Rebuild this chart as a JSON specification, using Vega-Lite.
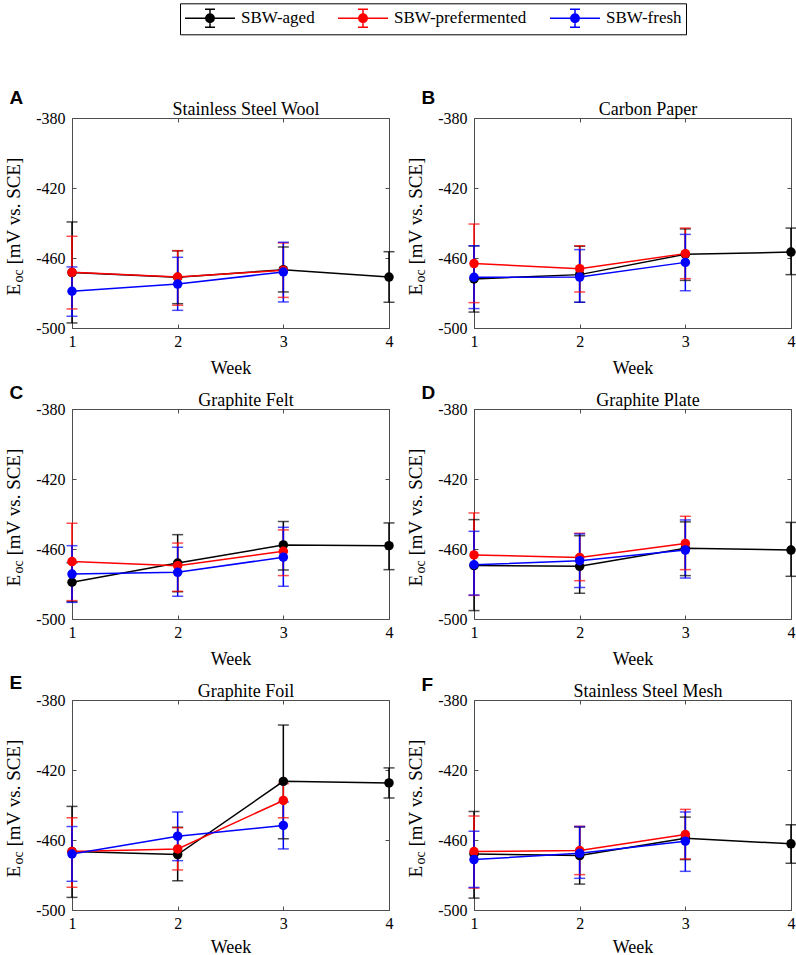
{
  "$schema": "https://vega.github.io/schema/vega-lite/v6.json",
  "background": "white",
  "padding": {"left": 3, "top": 2, "right": 0, "bottom": 0},
  "config": {
    "view": {"stroke": "#4d4d4d", "strokeWidth": 1},
    "axis": {
      "labelFont": "Liberation Serif", "labelFontSize": 16, "labelColor": "#000",
      "titleFont": "Liberation Serif", "titleFontSize": 18, "titleFontWeight": "normal", "titleColor": "#000",
      "tickColor": "#4d4d4d", "tickWidth": 1, "grid": false, "labelFlush": false, "labelOverlap": false
    }
  },
  "datasets": {
    "eoc": [
      {"panel": "A", "series": "SBW-aged", "week": 1, "mean": -468.3, "lo": -497.1, "hi": -439.4},
      {"panel": "A", "series": "SBW-aged", "week": 2, "mean": -471.0, "lo": -486.1, "hi": -455.9},
      {"panel": "A", "series": "SBW-aged", "week": 3, "mean": -466.7, "lo": -479.4, "hi": -453.7},
      {"panel": "A", "series": "SBW-aged", "week": 4, "mean": -470.9, "lo": -485.3, "hi": -456.4},
      {"panel": "A", "series": "SBW-prefermented", "week": 1, "mean": -468.2, "lo": -489.1, "hi": -447.6},
      {"panel": "A", "series": "SBW-prefermented", "week": 2, "mean": -470.9, "lo": -487.0, "hi": -455.8},
      {"panel": "A", "series": "SBW-prefermented", "week": 3, "mean": -467.0, "lo": -482.5, "hi": -451.4},
      {"panel": "A", "series": "SBW-fresh", "week": 1, "mean": -479.0, "lo": -493.3, "hi": -465.1},
      {"panel": "A", "series": "SBW-fresh", "week": 2, "mean": -474.9, "lo": -489.9, "hi": -459.6},
      {"panel": "A", "series": "SBW-fresh", "week": 3, "mean": -468.0, "lo": -485.1, "hi": -451.0},

      {"panel": "B", "series": "SBW-aged", "week": 1, "mean": -472.0, "lo": -490.9, "hi": -453.1},
      {"panel": "B", "series": "SBW-aged", "week": 2, "mean": -469.5, "lo": -485.3, "hi": -453.3},
      {"panel": "B", "series": "SBW-aged", "week": 3, "mean": -457.9, "lo": -472.8, "hi": -443.4},
      {"panel": "B", "series": "SBW-aged", "week": 4, "mean": -456.6, "lo": -469.5, "hi": -442.9},
      {"panel": "B", "series": "SBW-prefermented", "week": 1, "mean": -463.2, "lo": -485.5, "hi": -440.6},
      {"panel": "B", "series": "SBW-prefermented", "week": 2, "mean": -466.1, "lo": -479.4, "hi": -453.0},
      {"panel": "B", "series": "SBW-prefermented", "week": 3, "mean": -457.5, "lo": -471.8, "hi": -442.9},
      {"panel": "B", "series": "SBW-fresh", "week": 1, "mean": -471.0, "lo": -488.9, "hi": -453.0},
      {"panel": "B", "series": "SBW-fresh", "week": 2, "mean": -470.9, "lo": -485.3, "hi": -455.2},
      {"panel": "B", "series": "SBW-fresh", "week": 3, "mean": -462.5, "lo": -478.7, "hi": -446.5},

      {"panel": "C", "series": "SBW-aged", "week": 1, "mean": -479.0, "lo": -490.1, "hi": -467.9},
      {"panel": "C", "series": "SBW-aged", "week": 2, "mean": -468.0, "lo": -484.4, "hi": -451.8},
      {"panel": "C", "series": "SBW-aged", "week": 3, "mean": -457.7, "lo": -472.0, "hi": -444.3},
      {"panel": "C", "series": "SBW-aged", "week": 4, "mean": -458.1, "lo": -471.8, "hi": -445.1},
      {"panel": "C", "series": "SBW-prefermented", "week": 1, "mean": -467.2, "lo": -489.5, "hi": -445.3},
      {"panel": "C", "series": "SBW-prefermented", "week": 2, "mean": -469.5, "lo": -484.2, "hi": -456.6},
      {"panel": "C", "series": "SBW-prefermented", "week": 3, "mean": -461.3, "lo": -475.2, "hi": -449.1},
      {"panel": "C", "series": "SBW-fresh", "week": 1, "mean": -474.3, "lo": -490.5, "hi": -458.1},
      {"panel": "C", "series": "SBW-fresh", "week": 2, "mean": -473.3, "lo": -487.0, "hi": -459.0},
      {"panel": "C", "series": "SBW-fresh", "week": 3, "mean": -464.7, "lo": -481.3, "hi": -447.6},

      {"panel": "D", "series": "SBW-aged", "week": 1, "mean": -469.5, "lo": -495.2, "hi": -443.2},
      {"panel": "D", "series": "SBW-aged", "week": 2, "mean": -469.9, "lo": -485.3, "hi": -452.4},
      {"panel": "D", "series": "SBW-aged", "week": 3, "mean": -459.6, "lo": -475.2, "hi": -444.5},
      {"panel": "D", "series": "SBW-aged", "week": 4, "mean": -460.6, "lo": -475.6, "hi": -444.8},
      {"panel": "D", "series": "SBW-prefermented", "week": 1, "mean": -463.4, "lo": -486.5, "hi": -439.4},
      {"panel": "D", "series": "SBW-prefermented", "week": 2, "mean": -464.8, "lo": -478.1, "hi": -451.0},
      {"panel": "D", "series": "SBW-prefermented", "week": 3, "mean": -456.8, "lo": -471.8, "hi": -441.3},
      {"panel": "D", "series": "SBW-fresh", "week": 1, "mean": -469.0, "lo": -486.3, "hi": -449.9},
      {"panel": "D", "series": "SBW-fresh", "week": 2, "mean": -466.7, "lo": -482.0, "hi": -451.4},
      {"panel": "D", "series": "SBW-fresh", "week": 3, "mean": -460.6, "lo": -476.6, "hi": -443.4},

      {"panel": "E", "series": "SBW-aged", "week": 1, "mean": -466.6, "lo": -492.8, "hi": -440.8},
      {"panel": "E", "series": "SBW-aged", "week": 2, "mean": -468.3, "lo": -483.3, "hi": -452.7},
      {"panel": "E", "series": "SBW-aged", "week": 3, "mean": -426.5, "lo": -459.3, "hi": -394.3},
      {"panel": "E", "series": "SBW-aged", "week": 4, "mean": -427.4, "lo": -436.0, "hi": -418.8},
      {"panel": "E", "series": "SBW-prefermented", "week": 1, "mean": -466.6, "lo": -487.0, "hi": -447.3},
      {"panel": "E", "series": "SBW-prefermented", "week": 2, "mean": -465.1, "lo": -477.1, "hi": -453.0},
      {"panel": "E", "series": "SBW-prefermented", "week": 3, "mean": -437.4, "lo": -447.3, "hi": -427.8},
      {"panel": "E", "series": "SBW-fresh", "week": 1, "mean": -468.0, "lo": -483.6, "hi": -452.3},
      {"panel": "E", "series": "SBW-fresh", "week": 2, "mean": -457.8, "lo": -471.8, "hi": -444.0},
      {"panel": "E", "series": "SBW-fresh", "week": 3, "mean": -451.7, "lo": -465.1, "hi": -438.3},

      {"panel": "F", "series": "SBW-aged", "week": 1, "mean": -468.0, "lo": -493.2, "hi": -443.7},
      {"panel": "F", "series": "SBW-aged", "week": 2, "mean": -468.9, "lo": -485.2, "hi": -452.6},
      {"panel": "F", "series": "SBW-aged", "week": 3, "mean": -459.0, "lo": -471.2, "hi": -446.9},
      {"panel": "F", "series": "SBW-aged", "week": 4, "mean": -462.2, "lo": -473.3, "hi": -451.3},
      {"panel": "F", "series": "SBW-prefermented", "week": 1, "mean": -466.6, "lo": -487.5, "hi": -446.3},
      {"panel": "F", "series": "SBW-prefermented", "week": 2, "mean": -466.0, "lo": -479.8, "hi": -452.2},
      {"panel": "F", "series": "SBW-prefermented", "week": 3, "mean": -456.9, "lo": -470.8, "hi": -442.5},
      {"panel": "F", "series": "SBW-fresh", "week": 1, "mean": -471.2, "lo": -487.1, "hi": -455.0},
      {"panel": "F", "series": "SBW-fresh", "week": 2, "mean": -467.6, "lo": -481.9, "hi": -452.3},
      {"panel": "F", "series": "SBW-fresh", "week": 3, "mean": -460.7, "lo": -477.9, "hi": -444.0}
    ]
  },
  "data": {"name": "eoc"},
  "columns": 2,
  "bounds": "flush",
  "spacing": {"row": 81, "column": 85},
  "concat": [
    {
      "width": 317, "height": 210,
      "transform": [{"filter": "datum.panel === 'A'"}],
      "resolve": {"axis": {"x": "independent", "y": "independent"}},
      "layer": [
        {"mark": {"type": "rule", "strokeWidth": 1.5},
         "encoding": {
           "x": {"field": "week", "type": "quantitative", "scale": {"domain": [1, 4]}, "axis": {"values": [1, 2, 3, 4], "format": "d", "ticks": false, "domain": false, "labelPadding": 5, "title": "Week", "titleY": 45, "titleBaseline": "alphabetic"}},
           "y": {"field": "lo", "type": "quantitative", "scale": {"domain": [-500, -380]}, "axis": {"values": [-500, -460, -420, -380], "labelExpr": "datum.value + ''", "ticks": false, "domain": false, "labelPadding": 7, "title": "[mV vs. SCE]", "titleFontSize": 19, "titleX": -53, "titleY": 146, "titleAngle": 270, "titleAlign": "left", "titleBaseline": "alphabetic"}},
           "y2": {"field": "hi"},
           "color": {"field": "series", "type": "nominal", "scale": {"domain": ["SBW-aged", "SBW-prefermented", "SBW-fresh"], "range": ["#000000", "#ff0000", "#0000ff"]}}
         }},
        {"mark": {"type": "tick", "orient": "horizontal", "size": 11, "thickness": 1.5},
         "encoding": {
           "x": {"field": "week", "type": "quantitative", "scale": {"domain": [1, 4]}, "axis": {"orient": "bottom", "offset": -4, "values": [1, 2, 3, 4], "labels": false, "domain": false, "tickSize": 4, "title": null}},
           "y": {"field": "lo", "type": "quantitative", "scale": {"domain": [-500, -380]}, "axis": {"orient": "left", "offset": -4, "values": [-500, -460, -420, -380], "labels": false, "domain": false, "tickSize": 4, "title": "E", "titleFontSize": 19, "titleX": -57, "titleY": 177, "titleAngle": 270, "titleAlign": "left", "titleBaseline": "alphabetic"}},
           "color": {"field": "series", "type": "nominal"}
         }},
        {"mark": {"type": "tick", "orient": "horizontal", "size": 11, "thickness": 1.5},
         "encoding": {
           "x": {"field": "week", "type": "quantitative", "scale": {"domain": [1, 4]}, "axis": {"orient": "top", "offset": -4, "values": [1, 2, 3, 4], "labels": false, "domain": false, "tickSize": 4, "title": "A", "titleX": -63, "titleY": -19, "titleAlign": "left", "titleBaseline": "alphabetic", "titleAngle": 0, "titleFont": "Liberation Sans", "titleFontWeight": "bold", "titleFontSize": 19}},
           "y": {"field": "hi", "type": "quantitative", "scale": {"domain": [-500, -380]}, "axis": {"orient": "right", "offset": -4, "values": [-500, -460, -420, -380], "labels": false, "domain": false, "tickSize": 4, "title": "oc", "titleFontSize": 14, "titleX": -363, "titleY": 164, "titleAngle": 270, "titleAlign": "left", "titleBaseline": "alphabetic"}},
           "color": {"field": "series", "type": "nominal"}
         }},
        {"mark": {"type": "line", "strokeWidth": 1.5},
         "encoding": {
           "x": {"field": "week", "type": "quantitative", "scale": {"domain": [1, 4]}, "axis": {"orient": "top", "ticks": false, "labels": false, "domain": false, "title": "Stainless Steel Wool", "titleX": 173.5, "titleY": -4, "titleAlign": "center", "titleBaseline": "alphabetic"}},
           "y": {"field": "mean", "type": "quantitative", "scale": {"domain": [-500, -380]}, "axis": null},
           "color": {"field": "series", "type": "nominal"}
         }},
        {"mark": {"type": "point", "filled": true, "size": 90, "opacity": 1},
         "encoding": {
           "x": {"field": "week", "type": "quantitative", "scale": {"domain": [1, 4]}, "axis": null},
           "y": {"field": "mean", "type": "quantitative", "scale": {"domain": [-500, -380]}, "axis": null},
           "color": {"field": "series", "type": "nominal",
             "legend": {"orient": "none", "legendX": 108, "legendY": -114.7, "direction": "horizontal", "title": null,
               "symbolType": "M -2.5 0 L 2.5 0 M 0 -0.9 L 0 0.9 M -0.5 -0.9 L 0.5 -0.9 M -0.5 0.9 L 0.5 0.9 M 0.42 0 A 0.42 0.42 0 1 1 -0.42 0 A 0.42 0.42 0 1 1 0.42 0 Z",
               "symbolSize": 400, "symbolOffset": 15, "symbolStrokeWidth": 1.5, "symbolOpacity": 1,
               "labelFont": "Liberation Serif", "labelFontSize": 17, "labelColor": "#000",
               "labelOffset": 20, "columnPadding": 20, "padding": 4, "strokeColor": "#000", "fillColor": "#fff",
               "encode": {"symbols": {"update": {"fill": {"scale": "color", "field": "value"}, "stroke": {"scale": "color", "field": "value"}, "opacity": {"value": 1}, "fillOpacity": {"value": 1}, "strokeOpacity": {"value": 1}}}}}}
         }}
      ]
    },
    {
      "width": 317, "height": 210,
      "transform": [{"filter": "datum.panel === 'B'"}],
      "resolve": {"axis": {"x": "independent", "y": "independent"}},
      "layer": [
        {"mark": {"type": "rule", "strokeWidth": 1.5},
         "encoding": {
           "x": {"field": "week", "type": "quantitative", "scale": {"domain": [1, 4]}, "axis": {"values": [1, 2, 3, 4], "format": "d", "ticks": false, "domain": false, "labelPadding": 5, "title": "Week", "titleY": 45, "titleBaseline": "alphabetic"}},
           "y": {"field": "lo", "type": "quantitative", "scale": {"domain": [-500, -380]}, "axis": {"values": [-500, -460, -420, -380], "labelExpr": "datum.value + ''", "ticks": false, "domain": false, "labelPadding": 7, "title": "[mV vs. SCE]", "titleFontSize": 19, "titleX": -53, "titleY": 146, "titleAngle": 270, "titleAlign": "left", "titleBaseline": "alphabetic"}},
           "y2": {"field": "hi"},
           "color": {"field": "series", "type": "nominal"}
         }},
        {"mark": {"type": "tick", "orient": "horizontal", "size": 11, "thickness": 1.5},
         "encoding": {
           "x": {"field": "week", "type": "quantitative", "scale": {"domain": [1, 4]}, "axis": {"orient": "bottom", "offset": -4, "values": [1, 2, 3, 4], "labels": false, "domain": false, "tickSize": 4, "title": null}},
           "y": {"field": "lo", "type": "quantitative", "scale": {"domain": [-500, -380]}, "axis": {"orient": "left", "offset": -4, "values": [-500, -460, -420, -380], "labels": false, "domain": false, "tickSize": 4, "title": "E", "titleFontSize": 19, "titleX": -57, "titleY": 177, "titleAngle": 270, "titleAlign": "left", "titleBaseline": "alphabetic"}},
           "color": {"field": "series", "type": "nominal"}
         }},
        {"mark": {"type": "tick", "orient": "horizontal", "size": 11, "thickness": 1.5},
         "encoding": {
           "x": {"field": "week", "type": "quantitative", "scale": {"domain": [1, 4]}, "axis": {"orient": "top", "offset": -4, "values": [1, 2, 3, 4], "labels": false, "domain": false, "tickSize": 4, "title": "B", "titleX": -53, "titleY": -19, "titleAlign": "left", "titleBaseline": "alphabetic", "titleAngle": 0, "titleFont": "Liberation Sans", "titleFontWeight": "bold", "titleFontSize": 19}},
           "y": {"field": "hi", "type": "quantitative", "scale": {"domain": [-500, -380]}, "axis": {"orient": "right", "offset": -4, "values": [-500, -460, -420, -380], "labels": false, "domain": false, "tickSize": 4, "title": "oc", "titleFontSize": 14, "titleX": -363, "titleY": 164, "titleAngle": 270, "titleAlign": "left", "titleBaseline": "alphabetic"}},
           "color": {"field": "series", "type": "nominal"}
         }},
        {"mark": {"type": "line", "strokeWidth": 1.5},
         "encoding": {
           "x": {"field": "week", "type": "quantitative", "scale": {"domain": [1, 4]}, "axis": {"orient": "top", "ticks": false, "labels": false, "domain": false, "title": "Carbon Paper", "titleX": 173.5, "titleY": -4, "titleAlign": "center", "titleBaseline": "alphabetic"}},
           "y": {"field": "mean", "type": "quantitative", "scale": {"domain": [-500, -380]}, "axis": null},
           "color": {"field": "series", "type": "nominal"}
         }},
        {"mark": {"type": "point", "filled": true, "size": 90, "opacity": 1},
         "encoding": {
           "x": {"field": "week", "type": "quantitative", "scale": {"domain": [1, 4]}, "axis": null},
           "y": {"field": "mean", "type": "quantitative", "scale": {"domain": [-500, -380]}, "axis": null},
           "color": {"field": "series", "type": "nominal"}
         }}
      ]
    },
    {
      "width": 317, "height": 210,
      "transform": [{"filter": "datum.panel === 'C'"}],
      "resolve": {"axis": {"x": "independent", "y": "independent"}},
      "layer": [
        {"mark": {"type": "rule", "strokeWidth": 1.5},
         "encoding": {
           "x": {"field": "week", "type": "quantitative", "scale": {"domain": [1, 4]}, "axis": {"values": [1, 2, 3, 4], "format": "d", "ticks": false, "domain": false, "labelPadding": 5, "title": "Week", "titleY": 45, "titleBaseline": "alphabetic"}},
           "y": {"field": "lo", "type": "quantitative", "scale": {"domain": [-500, -380]}, "axis": {"values": [-500, -460, -420, -380], "labelExpr": "datum.value + ''", "ticks": false, "domain": false, "labelPadding": 7, "title": "[mV vs. SCE]", "titleFontSize": 19, "titleX": -53, "titleY": 146, "titleAngle": 270, "titleAlign": "left", "titleBaseline": "alphabetic"}},
           "y2": {"field": "hi"},
           "color": {"field": "series", "type": "nominal"}
         }},
        {"mark": {"type": "tick", "orient": "horizontal", "size": 11, "thickness": 1.5},
         "encoding": {
           "x": {"field": "week", "type": "quantitative", "scale": {"domain": [1, 4]}, "axis": {"orient": "bottom", "offset": -4, "values": [1, 2, 3, 4], "labels": false, "domain": false, "tickSize": 4, "title": null}},
           "y": {"field": "lo", "type": "quantitative", "scale": {"domain": [-500, -380]}, "axis": {"orient": "left", "offset": -4, "values": [-500, -460, -420, -380], "labels": false, "domain": false, "tickSize": 4, "title": "E", "titleFontSize": 19, "titleX": -57, "titleY": 177, "titleAngle": 270, "titleAlign": "left", "titleBaseline": "alphabetic"}},
           "color": {"field": "series", "type": "nominal"}
         }},
        {"mark": {"type": "tick", "orient": "horizontal", "size": 11, "thickness": 1.5},
         "encoding": {
           "x": {"field": "week", "type": "quantitative", "scale": {"domain": [1, 4]}, "axis": {"orient": "top", "offset": -4, "values": [1, 2, 3, 4], "labels": false, "domain": false, "tickSize": 4, "title": "C", "titleX": -63, "titleY": -14.5, "titleAlign": "left", "titleBaseline": "alphabetic", "titleAngle": 0, "titleFont": "Liberation Sans", "titleFontWeight": "bold", "titleFontSize": 19}},
           "y": {"field": "hi", "type": "quantitative", "scale": {"domain": [-500, -380]}, "axis": {"orient": "right", "offset": -4, "values": [-500, -460, -420, -380], "labels": false, "domain": false, "tickSize": 4, "title": "oc", "titleFontSize": 14, "titleX": -363, "titleY": 164, "titleAngle": 270, "titleAlign": "left", "titleBaseline": "alphabetic"}},
           "color": {"field": "series", "type": "nominal"}
         }},
        {"mark": {"type": "line", "strokeWidth": 1.5},
         "encoding": {
           "x": {"field": "week", "type": "quantitative", "scale": {"domain": [1, 4]}, "axis": {"orient": "top", "ticks": false, "labels": false, "domain": false, "title": "Graphite Felt", "titleX": 173.5, "titleY": -4, "titleAlign": "center", "titleBaseline": "alphabetic"}},
           "y": {"field": "mean", "type": "quantitative", "scale": {"domain": [-500, -380]}, "axis": null},
           "color": {"field": "series", "type": "nominal"}
         }},
        {"mark": {"type": "point", "filled": true, "size": 90, "opacity": 1},
         "encoding": {
           "x": {"field": "week", "type": "quantitative", "scale": {"domain": [1, 4]}, "axis": null},
           "y": {"field": "mean", "type": "quantitative", "scale": {"domain": [-500, -380]}, "axis": null},
           "color": {"field": "series", "type": "nominal"}
         }}
      ]
    },
    {
      "width": 317, "height": 210,
      "transform": [{"filter": "datum.panel === 'D'"}],
      "resolve": {"axis": {"x": "independent", "y": "independent"}},
      "layer": [
        {"mark": {"type": "rule", "strokeWidth": 1.5},
         "encoding": {
           "x": {"field": "week", "type": "quantitative", "scale": {"domain": [1, 4]}, "axis": {"values": [1, 2, 3, 4], "format": "d", "ticks": false, "domain": false, "labelPadding": 5, "title": "Week", "titleY": 45, "titleBaseline": "alphabetic"}},
           "y": {"field": "lo", "type": "quantitative", "scale": {"domain": [-500, -380]}, "axis": {"values": [-500, -460, -420, -380], "labelExpr": "datum.value + ''", "ticks": false, "domain": false, "labelPadding": 7, "title": "[mV vs. SCE]", "titleFontSize": 19, "titleX": -53, "titleY": 146, "titleAngle": 270, "titleAlign": "left", "titleBaseline": "alphabetic"}},
           "y2": {"field": "hi"},
           "color": {"field": "series", "type": "nominal"}
         }},
        {"mark": {"type": "tick", "orient": "horizontal", "size": 11, "thickness": 1.5},
         "encoding": {
           "x": {"field": "week", "type": "quantitative", "scale": {"domain": [1, 4]}, "axis": {"orient": "bottom", "offset": -4, "values": [1, 2, 3, 4], "labels": false, "domain": false, "tickSize": 4, "title": null}},
           "y": {"field": "lo", "type": "quantitative", "scale": {"domain": [-500, -380]}, "axis": {"orient": "left", "offset": -4, "values": [-500, -460, -420, -380], "labels": false, "domain": false, "tickSize": 4, "title": "E", "titleFontSize": 19, "titleX": -57, "titleY": 177, "titleAngle": 270, "titleAlign": "left", "titleBaseline": "alphabetic"}},
           "color": {"field": "series", "type": "nominal"}
         }},
        {"mark": {"type": "tick", "orient": "horizontal", "size": 11, "thickness": 1.5},
         "encoding": {
           "x": {"field": "week", "type": "quantitative", "scale": {"domain": [1, 4]}, "axis": {"orient": "top", "offset": -4, "values": [1, 2, 3, 4], "labels": false, "domain": false, "tickSize": 4, "title": "D", "titleX": -53, "titleY": -14.5, "titleAlign": "left", "titleBaseline": "alphabetic", "titleAngle": 0, "titleFont": "Liberation Sans", "titleFontWeight": "bold", "titleFontSize": 19}},
           "y": {"field": "hi", "type": "quantitative", "scale": {"domain": [-500, -380]}, "axis": {"orient": "right", "offset": -4, "values": [-500, -460, -420, -380], "labels": false, "domain": false, "tickSize": 4, "title": "oc", "titleFontSize": 14, "titleX": -363, "titleY": 164, "titleAngle": 270, "titleAlign": "left", "titleBaseline": "alphabetic"}},
           "color": {"field": "series", "type": "nominal"}
         }},
        {"mark": {"type": "line", "strokeWidth": 1.5},
         "encoding": {
           "x": {"field": "week", "type": "quantitative", "scale": {"domain": [1, 4]}, "axis": {"orient": "top", "ticks": false, "labels": false, "domain": false, "title": "Graphite Plate", "titleX": 173.5, "titleY": -4, "titleAlign": "center", "titleBaseline": "alphabetic"}},
           "y": {"field": "mean", "type": "quantitative", "scale": {"domain": [-500, -380]}, "axis": null},
           "color": {"field": "series", "type": "nominal"}
         }},
        {"mark": {"type": "point", "filled": true, "size": 90, "opacity": 1},
         "encoding": {
           "x": {"field": "week", "type": "quantitative", "scale": {"domain": [1, 4]}, "axis": null},
           "y": {"field": "mean", "type": "quantitative", "scale": {"domain": [-500, -380]}, "axis": null},
           "color": {"field": "series", "type": "nominal"}
         }}
      ]
    },
    {
      "width": 317, "height": 210,
      "transform": [{"filter": "datum.panel === 'E'"}],
      "resolve": {"axis": {"x": "independent", "y": "independent"}},
      "layer": [
        {"mark": {"type": "rule", "strokeWidth": 1.5},
         "encoding": {
           "x": {"field": "week", "type": "quantitative", "scale": {"domain": [1, 4]}, "axis": {"values": [1, 2, 3, 4], "format": "d", "ticks": false, "domain": false, "labelPadding": 5, "title": "Week", "titleY": 42, "titleBaseline": "alphabetic"}},
           "y": {"field": "lo", "type": "quantitative", "scale": {"domain": [-500, -380]}, "axis": {"values": [-500, -460, -420, -380], "labelExpr": "datum.value + ''", "ticks": false, "domain": false, "labelPadding": 7, "title": "[mV vs. SCE]", "titleFontSize": 19, "titleX": -53, "titleY": 146, "titleAngle": 270, "titleAlign": "left", "titleBaseline": "alphabetic"}},
           "y2": {"field": "hi"},
           "color": {"field": "series", "type": "nominal"}
         }},
        {"mark": {"type": "tick", "orient": "horizontal", "size": 11, "thickness": 1.5},
         "encoding": {
           "x": {"field": "week", "type": "quantitative", "scale": {"domain": [1, 4]}, "axis": {"orient": "bottom", "offset": -4, "values": [1, 2, 3, 4], "labels": false, "domain": false, "tickSize": 4, "title": null}},
           "y": {"field": "lo", "type": "quantitative", "scale": {"domain": [-500, -380]}, "axis": {"orient": "left", "offset": -4, "values": [-500, -460, -420, -380], "labels": false, "domain": false, "tickSize": 4, "title": "E", "titleFontSize": 19, "titleX": -57, "titleY": 177, "titleAngle": 270, "titleAlign": "left", "titleBaseline": "alphabetic"}},
           "color": {"field": "series", "type": "nominal"}
         }},
        {"mark": {"type": "tick", "orient": "horizontal", "size": 11, "thickness": 1.5},
         "encoding": {
           "x": {"field": "week", "type": "quantitative", "scale": {"domain": [1, 4]}, "axis": {"orient": "top", "offset": -4, "values": [1, 2, 3, 4], "labels": false, "domain": false, "tickSize": 4, "title": "E", "titleX": -63, "titleY": -15.5, "titleAlign": "left", "titleBaseline": "alphabetic", "titleAngle": 0, "titleFont": "Liberation Sans", "titleFontWeight": "bold", "titleFontSize": 19}},
           "y": {"field": "hi", "type": "quantitative", "scale": {"domain": [-500, -380]}, "axis": {"orient": "right", "offset": -4, "values": [-500, -460, -420, -380], "labels": false, "domain": false, "tickSize": 4, "title": "oc", "titleFontSize": 14, "titleX": -363, "titleY": 164, "titleAngle": 270, "titleAlign": "left", "titleBaseline": "alphabetic"}},
           "color": {"field": "series", "type": "nominal"}
         }},
        {"mark": {"type": "line", "strokeWidth": 1.5},
         "encoding": {
           "x": {"field": "week", "type": "quantitative", "scale": {"domain": [1, 4]}, "axis": {"orient": "top", "ticks": false, "labels": false, "domain": false, "title": "Graphite Foil", "titleX": 173.5, "titleY": -4, "titleAlign": "center", "titleBaseline": "alphabetic"}},
           "y": {"field": "mean", "type": "quantitative", "scale": {"domain": [-500, -380]}, "axis": null},
           "color": {"field": "series", "type": "nominal"}
         }},
        {"mark": {"type": "point", "filled": true, "size": 90, "opacity": 1},
         "encoding": {
           "x": {"field": "week", "type": "quantitative", "scale": {"domain": [1, 4]}, "axis": null},
           "y": {"field": "mean", "type": "quantitative", "scale": {"domain": [-500, -380]}, "axis": null},
           "color": {"field": "series", "type": "nominal"}
         }}
      ]
    },
    {
      "width": 317, "height": 210,
      "transform": [{"filter": "datum.panel === 'F'"}],
      "resolve": {"axis": {"x": "independent", "y": "independent"}},
      "layer": [
        {"mark": {"type": "rule", "strokeWidth": 1.5},
         "encoding": {
           "x": {"field": "week", "type": "quantitative", "scale": {"domain": [1, 4]}, "axis": {"values": [1, 2, 3, 4], "format": "d", "ticks": false, "domain": false, "labelPadding": 5, "title": "Week", "titleY": 42, "titleBaseline": "alphabetic"}},
           "y": {"field": "lo", "type": "quantitative", "scale": {"domain": [-500, -380]}, "axis": {"values": [-500, -460, -420, -380], "labelExpr": "datum.value + ''", "ticks": false, "domain": false, "labelPadding": 7, "title": "[mV vs. SCE]", "titleFontSize": 19, "titleX": -53, "titleY": 146, "titleAngle": 270, "titleAlign": "left", "titleBaseline": "alphabetic"}},
           "y2": {"field": "hi"},
           "color": {"field": "series", "type": "nominal"}
         }},
        {"mark": {"type": "tick", "orient": "horizontal", "size": 11, "thickness": 1.5},
         "encoding": {
           "x": {"field": "week", "type": "quantitative", "scale": {"domain": [1, 4]}, "axis": {"orient": "bottom", "offset": -4, "values": [1, 2, 3, 4], "labels": false, "domain": false, "tickSize": 4, "title": null}},
           "y": {"field": "lo", "type": "quantitative", "scale": {"domain": [-500, -380]}, "axis": {"orient": "left", "offset": -4, "values": [-500, -460, -420, -380], "labels": false, "domain": false, "tickSize": 4, "title": "E", "titleFontSize": 19, "titleX": -57, "titleY": 177, "titleAngle": 270, "titleAlign": "left", "titleBaseline": "alphabetic"}},
           "color": {"field": "series", "type": "nominal"}
         }},
        {"mark": {"type": "tick", "orient": "horizontal", "size": 11, "thickness": 1.5},
         "encoding": {
           "x": {"field": "week", "type": "quantitative", "scale": {"domain": [1, 4]}, "axis": {"orient": "top", "offset": -4, "values": [1, 2, 3, 4], "labels": false, "domain": false, "tickSize": 4, "title": "F", "titleX": -53, "titleY": -14, "titleAlign": "left", "titleBaseline": "alphabetic", "titleAngle": 0, "titleFont": "Liberation Sans", "titleFontWeight": "bold", "titleFontSize": 19}},
           "y": {"field": "hi", "type": "quantitative", "scale": {"domain": [-500, -380]}, "axis": {"orient": "right", "offset": -4, "values": [-500, -460, -420, -380], "labels": false, "domain": false, "tickSize": 4, "title": "oc", "titleFontSize": 14, "titleX": -363, "titleY": 164, "titleAngle": 270, "titleAlign": "left", "titleBaseline": "alphabetic"}},
           "color": {"field": "series", "type": "nominal"}
         }},
        {"mark": {"type": "line", "strokeWidth": 1.5},
         "encoding": {
           "x": {"field": "week", "type": "quantitative", "scale": {"domain": [1, 4]}, "axis": {"orient": "top", "ticks": false, "labels": false, "domain": false, "title": "Stainless Steel Mesh", "titleX": 173.5, "titleY": -4, "titleAlign": "center", "titleBaseline": "alphabetic"}},
           "y": {"field": "mean", "type": "quantitative", "scale": {"domain": [-500, -380]}, "axis": null},
           "color": {"field": "series", "type": "nominal"}
         }},
        {"mark": {"type": "point", "filled": true, "size": 90, "opacity": 1},
         "encoding": {
           "x": {"field": "week", "type": "quantitative", "scale": {"domain": [1, 4]}, "axis": null},
           "y": {"field": "mean", "type": "quantitative", "scale": {"domain": [-500, -380]}, "axis": null},
           "color": {"field": "series", "type": "nominal"}
         }}
      ]
    }
  ]
}
